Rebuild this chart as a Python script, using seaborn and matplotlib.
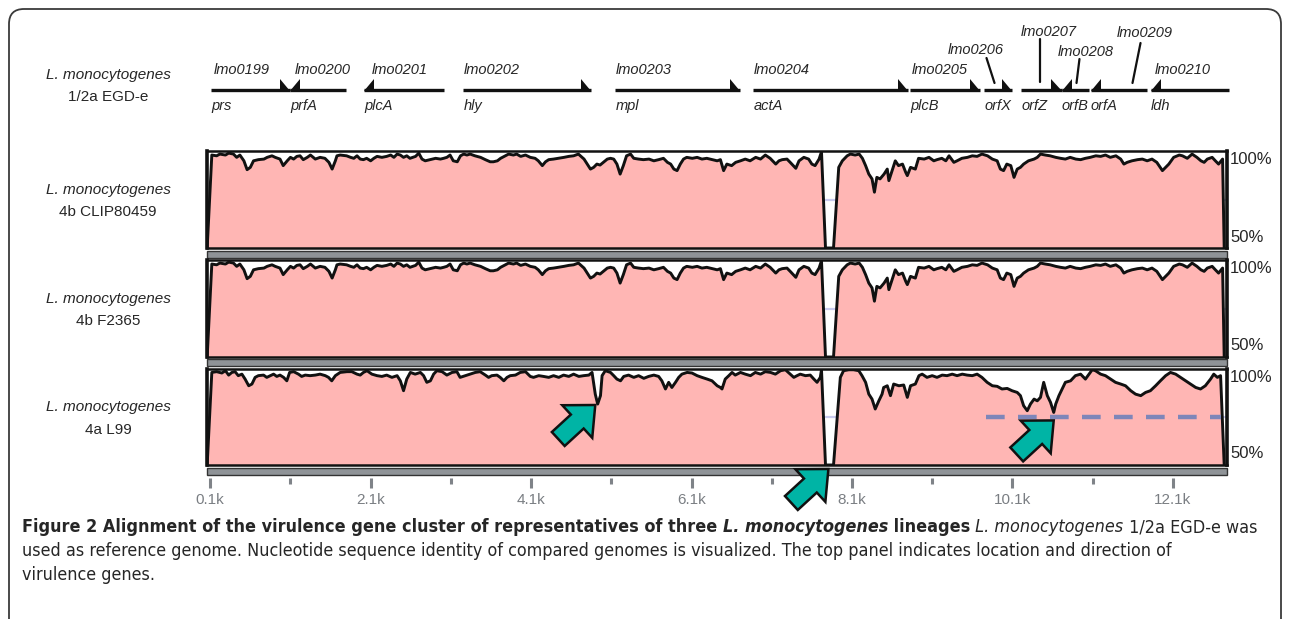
import matplotlib
matplotlib.use('Agg')
import matplotlib.pyplot as plt
import seaborn as sns
from matplotlib import font_manager
from matplotlib.patches import FancyBboxPatch, Rectangle
from matplotlib.transforms import IdentityTransform

W, H = 1290, 619

# ---------------- data ----------------
# virulence gene cluster of the reference genome (positions in bp)
genes = ['prs', 'prfA', 'plcA', 'hly', 'mpl', 'actA', 'plcB', 'orfX', 'orfZ', 'orfB', 'orfA', 'ldh']
locus = ['lmo0199', 'lmo0200', 'lmo0201', 'lmo0202', 'lmo0203', 'lmo0204',
         'lmo0205', 'lmo0206', 'lmo0207', 'lmo0208', 'lmo0209', 'lmo0210']
gene_start = [112, 1098, 2020, 3255, 5150, 6871, 8829, 9752, 10213, 10712, 11074, 11822]
gene_end = [1098, 1796, 3018, 4851, 6709, 8804, 9702, 10089, 10712, 11049, 11772, 12795]
strand = [1, -1, -1, 1, 1, 1, 1, 1, 1, -1, -1, -1]

reference = ('L. monocytogenes', '1/2a EGD-e')
species = ['L. monocytogenes', 'L. monocytogenes', 'L. monocytogenes']
strains = ['4b CLIP80459', '4b F2365', '4a L99']

# (position bp, identity %)
clip80459 = [
    (62, 50), (120, 98.3), (180, 97.9), (220, 98.8), (290, 98.3), (330, 99.3), (390, 98.8),
    (430, 97.1), (470, 98.3), (520, 95.3), (560, 90.7), (600, 91.9), (640, 95.3), (700, 95.9),
    (770, 96.2), (810, 97.1), (870, 97.9), (910, 97.1), (970, 96.2), (1010, 92.8), (1060, 95.3),
    (1100, 97.1), (1140, 96.2), (1180, 97.6), (1220, 97.9), (1260, 95.9), (1310, 97.1),
    (1350, 98.3), (1410, 96.2), (1470, 97.1), (1530, 96.6), (1580, 94.5), (1620, 91.0),
    (1660, 95.3), (1680, 97.9), (1720, 98.3), (1800, 97.9), (1850, 97.1), (1890, 96.6),
    (1930, 97.9), (1970, 96.2), (2010, 95.9), (2050, 96.6), (2100, 95.3), (2140, 96.6),
    (2180, 97.6), (2240, 97.1), (2300, 97.6), (2350, 98.3), (2390, 97.1), (2430, 98.8),
    (2470, 98.3), (2510, 97.1), (2550, 97.9), (2590, 96.6), (2660, 97.6), (2700, 99.3),
    (2740, 96.2), (2780, 95.3), (2840, 95.9), (2910, 96.6), (2970, 96.2), (3010, 96.6),
    (3050, 97.1), (3090, 98.3), (3130, 95.3), (3180, 94.8), (3220, 97.9), (3260, 98.8),
    (3300, 98.3), (3340, 98.8), (3400, 97.9), (3470, 97.1), (3530, 95.9), (3590, 94.8),
    (3630, 94.8), (3680, 95.3), (3720, 96.6), (3780, 97.9), (3820, 98.8), (3880, 98.3),
    (3920, 98.8), (3970, 97.6), (4030, 98.3), (4090, 97.1), (4150, 96.6), (4190, 95.3),
    (4240, 92.8), (4280, 94.8), (4320, 95.9), (4380, 96.2), (4440, 96.6), (4510, 97.1),
    (4570, 97.6), (4630, 97.9), (4690, 98.8), (4760, 96.2), (4800, 93.6), (4840, 91.0),
    (4880, 91.9), (4920, 93.6), (4960, 93.1), (5000, 94.5), (5050, 96.2), (5090, 96.6),
    (5130, 96.2), (5170, 93.6), (5210, 88.4), (5250, 92.8), (5290, 97.9), (5340, 98.8),
    (5380, 96.6), (5440, 96.2), (5500, 95.9), (5570, 96.2), (5630, 95.3), (5690, 95.9),
    (5750, 96.6), (5800, 94.5), (5840, 93.6), (5880, 91.0), (5920, 90.2), (5960, 93.6),
    (6000, 96.2), (6040, 97.1), (6110, 96.6), (6170, 97.1), (6230, 96.2), (6290, 96.6),
    (6360, 95.9), (6420, 95.3), (6460, 95.9), (6500, 90.2), (6540, 93.6), (6600, 92.8),
    (6650, 94.5), (6710, 95.3), (6770, 96.2), (6830, 95.3), (6900, 97.1), (6960, 96.2),
    (7020, 98.3), (7080, 96.6), (7150, 93.6), (7190, 95.3), (7230, 95.9), (7290, 96.2),
    (7330, 94.5), (7400, 91.4), (7440, 95.3), (7500, 97.1), (7560, 96.2), (7600, 93.6),
    (7640, 92.8), (7690, 96.2), (7720, 100), (7770, 50), (7870, 50), (7935, 91.9),
    (7980, 95.3), (8040, 97.9), (8080, 98.8), (8140, 98.3), (8190, 98.8), (8230, 96.6),
    (8270, 92.8), (8310, 88.4), (8350, 85.9), (8380, 79.0), (8410, 86.7), (8450, 85.9),
    (8500, 88.4), (8540, 91.0), (8560, 85.0), (8600, 90.2), (8640, 95.3), (8680, 92.8),
    (8730, 93.6), (8770, 89.3), (8790, 87.6), (8830, 91.9), (8890, 91.0), (8930, 96.6),
    (9000, 96.2), (9060, 97.1), (9120, 95.3), (9160, 95.9), (9220, 96.6), (9270, 95.3),
    (9310, 97.9), (9370, 94.5), (9410, 95.3), (9470, 96.6), (9540, 97.1), (9600, 97.9),
    (9660, 97.6), (9720, 98.8), (9790, 97.9), (9850, 96.2), (9910, 95.3), (9950, 91.0),
    (9990, 90.2), (10030, 93.6), (10080, 92.8), (10120, 86.7), (10160, 91.0), (10200, 91.9),
    (10240, 93.6), (10300, 95.3), (10370, 96.2), (10410, 97.1), (10450, 98.8), (10510, 98.3),
    (10570, 97.9), (10640, 97.1), (10700, 96.6), (10760, 96.2), (10820, 97.1), (10890, 96.2),
    (10950, 95.9), (11010, 96.6), (11070, 97.1), (11140, 97.9), (11200, 97.6), (11260, 98.3),
    (11320, 97.1), (11390, 97.9), (11450, 96.2), (11490, 93.6), (11530, 94.5), (11590, 95.3),
    (11660, 95.9), (11720, 96.2), (11780, 95.3), (11840, 96.2), (11900, 94.5), (11970, 90.2),
    (12010, 91.9), (12050, 93.6), (12110, 97.1), (12180, 98.3), (12220, 97.9), (12280, 96.6),
    (12340, 98.8), (12400, 97.1), (12450, 95.3), (12490, 94.5), (12530, 96.2), (12590, 97.1),
    (12630, 95.3), (12670, 93.6), (12720, 96.2), (12740, 50),
]

# the two 4b strains give the same trace at this resolution
f2365 = list(clip80459)

l99 = [
    (62, 50), (120, 98.6), (180, 99.0), (245, 98.3), (290, 99.5), (330, 97.2), (370, 98.6),
    (410, 99.0), (450, 96.9), (495, 97.7), (535, 95.1), (580, 91.6), (620, 92.5), (660, 96.0),
    (700, 96.9), (765, 97.2), (805, 96.0), (850, 96.9), (890, 97.7), (930, 96.5), (970, 97.2),
    (1015, 96.0), (1055, 94.2), (1090, 98.6), (1140, 99.0), (1200, 97.7), (1240, 96.5),
    (1285, 97.2), (1345, 96.9), (1410, 97.2), (1470, 97.7), (1535, 96.9), (1575, 96.0),
    (1615, 94.2), (1660, 96.9), (1720, 98.6), (1805, 99.0), (1865, 99.0), (1930, 97.7),
    (1970, 97.2), (2010, 98.6), (2055, 99.5), (2115, 97.7), (2180, 96.9), (2240, 96.5),
    (2300, 97.2), (2365, 96.0), (2430, 96.9), (2470, 94.2), (2510, 89.0), (2550, 95.1),
    (2595, 98.6), (2655, 97.7), (2720, 98.6), (2760, 96.9), (2800, 93.4), (2845, 94.2),
    (2885, 97.7), (2925, 99.5), (2990, 99.0), (3050, 97.2), (3115, 98.6), (3175, 99.0),
    (3215, 96.0), (3280, 96.9), (3340, 97.7), (3405, 98.6), (3465, 99.0), (3530, 97.2),
    (3570, 96.0), (3610, 96.9), (3675, 97.2), (3715, 96.0), (3760, 94.2), (3800, 96.0),
    (3840, 96.9), (3905, 97.2), (3965, 98.6), (4030, 99.0), (4090, 96.5), (4130, 96.0),
    (4195, 96.9), (4255, 96.5), (4320, 96.0), (4380, 96.9), (4445, 96.0), (4505, 97.2),
    (4570, 96.5), (4630, 97.7), (4695, 96.5), (4755, 96.9), (4820, 97.2), (4860, 98.6),
    (4900, 87.2), (4930, 82.0), (4965, 86.4), (4985, 96.9), (5025, 99.5), (5090, 98.6),
    (5130, 96.9), (5170, 95.1), (5215, 94.2), (5255, 96.5), (5315, 97.2), (5380, 96.0),
    (5440, 96.9), (5505, 95.5), (5565, 96.5), (5630, 97.2), (5690, 96.5), (5730, 94.2),
    (5775, 89.9), (5815, 93.4), (5855, 90.7), (5900, 93.4), (5940, 96.0), (5980, 97.7),
    (6045, 98.6), (6105, 98.3), (6170, 96.9), (6230, 96.0), (6295, 95.1), (6355, 94.2),
    (6420, 91.6), (6460, 90.7), (6480, 89.9), (6520, 95.1), (6565, 96.9), (6605, 98.6),
    (6645, 97.2), (6710, 98.6), (6770, 97.7), (6835, 96.9), (6895, 98.6), (6960, 97.7),
    (7020, 99.0), (7085, 98.6), (7145, 97.7), (7210, 99.5), (7270, 100), (7330, 97.7),
    (7375, 96.0), (7415, 96.9), (7455, 97.7), (7520, 96.9), (7580, 97.2), (7625, 95.1),
    (7665, 93.4), (7705, 96.0), (7720, 100), (7770, 50), (7870, 50), (7955, 96.0),
    (7995, 99.5), (8060, 100), (8120, 100), (8185, 99.5), (8225, 96.9), (8270, 93.4),
    (8310, 87.2), (8350, 84.6), (8390, 79.4), (8435, 83.7), (8475, 87.2), (8495, 90.7),
    (8540, 91.6), (8580, 86.4), (8620, 92.5), (8685, 91.6), (8745, 92.0), (8790, 85.5),
    (8830, 91.6), (8890, 92.5), (8935, 96.9), (8975, 97.7), (9035, 96.0), (9100, 96.9),
    (9160, 96.0), (9225, 97.2), (9285, 96.9), (9350, 97.7), (9410, 96.9), (9475, 97.7),
    (9535, 97.2), (9600, 96.9), (9660, 97.7), (9720, 96.0), (9785, 93.4), (9850, 91.6),
    (9910, 91.3), (9970, 89.9), (10035, 90.2), (10095, 89.0), (10160, 88.1), (10200, 86.4),
    (10240, 81.1), (10285, 78.5), (10325, 82.0), (10370, 84.6), (10410, 83.7), (10450, 85.5),
    (10490, 93.4), (10535, 86.4), (10575, 82.9), (10615, 77.6), (10640, 82.0), (10680, 86.4),
    (10720, 89.9), (10760, 93.4), (10825, 94.2), (10885, 96.9), (10950, 97.7), (11010, 95.1),
    (11055, 97.7), (11095, 100), (11135, 99.5), (11200, 97.7), (11260, 96.9), (11325, 95.1),
    (11385, 93.4), (11450, 92.5), (11510, 91.6), (11575, 89.0), (11635, 87.2), (11700, 86.4),
    (11760, 88.1), (11820, 89.0), (11885, 91.6), (11945, 94.2), (12010, 96.9), (12070, 98.6),
    (12135, 97.7), (12195, 96.0), (12260, 94.2), (12320, 92.5), (12385, 90.7), (12445, 89.9),
    (12505, 91.6), (12570, 95.1), (12610, 97.7), (12655, 96.0), (12695, 96.9), (12740, 50),
]

profiles = [clip80459, f2365, l99]

# highlighted features in the L99 track
l99_arrows = [(4900, 81.5), (7806, 47.9), (10615, 73.4)]   # (bp, %) pointed at
l99_dash = (9777, 12695, 75)                               # start, end, level

major_ticks = [100, 2100, 4100, 6100, 8100, 10100, 12100]
minor_ticks = [1100, 3100, 5100, 7100, 9100, 11100]
tick_labels = ['0.1k', '2.1k', '4.1k', '6.1k', '8.1k', '10.1k', '12.1k']

# ---------------- layout / style ----------------
X_LIM = (60, 12775)
PINK = '#ffb6b4'
TEAL = '#00b4a5'
PANEL_ROWS = [(151, 248), (260, 357), (369, 465)]   # pixel top/bottom
BAR_ROWS = [(251, 258), (359, 366), (468, 475)]
X0, X1 = 207, 1227

sns.set_style('white')
plt.rcParams['font.family'] = ['Liberation Sans', 'DejaVu Sans']

# pick a narrow face for the caption if one is installed
entries = font_manager.fontManager.ttflist
names = {f.name for f in entries}
if 'Liberation Sans Narrow' in names:
    cap_font = dict(family=['Liberation Sans Narrow', 'DejaVu Sans'])
elif any(f.name == 'DejaVu Sans' and 'condensed' in str(f.stretch) for f in entries):
    cap_font = dict(family=['DejaVu Sans'], fontstretch='condensed')
elif any(f.name == 'Noto Sans' and 'condensed' in str(f.stretch) for f in entries):
    cap_font = dict(family=['Noto Sans'], fontstretch='condensed')
else:
    cap_font = dict(family=['Lato', 'DejaVu Sans'])


def rect(x0, y0, x1, y1):
    return [x0 / W, 1 - y1 / H, (x1 - x0) / W, (y1 - y0) / H]


fig = plt.figure(figsize=(W / 100, H / 100), dpi=100)

# outer rounded frame
frame = FancyBboxPatch((9, -40), W - 18, H - 9 + 40,
                       boxstyle='round,pad=0,rounding_size=15',
                       transform=IdentityTransform(), fill=False,
                       ec='#3a3a3a', lw=1.3)
fig.add_artist(frame)

# ---- gene track ----
gax = fig.add_axes(rect(X0, 20, X1, 125))
gax.set_xlim(X_LIM)
gax.set_ylim(125, 20)
gax.axis('off')
line_y, head_top, head_bot, head_len = 89.5, 79, 91, 125
for g, s, e, d in zip(genes, gene_start, gene_end, strand):
    gax.plot([s, e], [line_y, line_y], color='#111111', lw=2.4,
             solid_capstyle='butt', clip_on=False)
    if d > 0:
        gax.fill([e - head_len, e - head_len, e], [head_top, head_bot, head_bot],
                 color='#111111', lw=0, clip_on=False)
    else:
        gax.fill([s + head_len, s + head_len, s], [head_top, head_bot, head_bot],
                 color='#111111', lw=0, clip_on=False)
    gax.text(s, 106, g, style='italic', fontsize=10.5, va='center', ha='left')

lab_font = dict(style='italic', fontsize=10.5, va='center', ha='left')
upper_x = [150, 1160, 2110, 3255, 5150, 6880, 8850]
for name, x in zip(locus[:7], upper_x):
    gax.text(x, 70, name, **lab_font)
gax.text(11880, 70, locus[11], **lab_font)
# stacked labels with leader lines
gax.text(9290, 50, locus[7], **lab_font)
gax.plot([9777, 9877], [58, 83], color='#111111', lw=1.6)
gax.text(10200, 32, locus[8], **lab_font)
gax.plot([10450, 10450], [39, 82], color='#111111', lw=1.6)
gax.text(10662, 52, locus[9], **lab_font)
gax.plot([10936, 10899], [59, 83], color='#111111', lw=1.6)
gax.text(11398, 33, locus[10], **lab_font)
gax.plot([11697, 11597], [43, 83], color='#111111', lw=1.6)

fig.text(108 / W, 1 - 75 / H, reference[0], style='italic', fontsize=11, ha='center', va='center')
fig.text(108 / W, 1 - 97 / H, reference[1], fontsize=11, ha='center', va='center')

# ---- identity panels ----
panel_axes = []
for prof, sp, st, (top, bot), (bt, bb) in zip(profiles, species, strains, PANEL_ROWS, BAR_ROWS):
    ax = fig.add_axes(rect(X0, top, X1, bot))
    pos = [p for p, _ in prof]
    ident = [v for _, v in prof]
    ax.axhline(75, color='#c9cbef', lw=1.6, zorder=0)
    ax.fill_between(pos, 50, ident, color=PINK, lw=0, zorder=1)
    sns.lineplot(x=pos, y=ident, ax=ax, color='#111111', lw=2.1,
                 estimator=None, sort=False, zorder=3)
    ax.set_xlim(X_LIM)
    ax.set_ylim(50, 100.4)
    ax.set_xticks([])
    ax.set_yticks([])
    for side, sp_ in ax.spines.items():
        sp_.set_visible(True)
        sp_.set_color('#111111')
        sp_.set_linewidth(2.6 if side in ('left', 'right') else 1.8)
    ax.text(1.003, 1 - 8 / (bot - top), '100%', transform=ax.transAxes,
            fontsize=12, va='center', ha='left')
    ax.text(1.003, 11 / (bot - top), '50%', transform=ax.transAxes,
            fontsize=12, va='center', ha='left')
    mid = (top + bot) / 2
    fig.text(108 / W, 1 - (mid - 9.5) / H, sp, style='italic', fontsize=11,
             ha='center', va='center')
    fig.text(108 / W, 1 - (mid + 12.5) / H, st, fontsize=11, ha='center', va='center')
    bar = Rectangle((X0 / W, 1 - bb / H), (X1 - X0) / W, (bb - bt) / H,
                    transform=fig.transFigure, facecolor='#8f9397',
                    edgecolor='#333333', lw=1.0, zorder=-1)
    fig.add_artist(bar)
    panel_axes.append(ax)

# highlights in L99
ax3 = panel_axes[2]
ax3.hlines(l99_dash[2], l99_dash[0], l99_dash[1], color='#7e86b9', lw=3.2,
           linestyles=(0, (4.2, 3.0)), zorder=4)
arrow_style = 'simple,head_length=0.8,head_width=1.45,tail_width=0.62'
for (bx, by) in l99_arrows:
    ax3.annotate('', xy=(bx, by), xytext=(-37, -34), textcoords='offset pixels',
                 annotation_clip=False,
                 arrowprops=dict(arrowstyle=arrow_style, mutation_scale=22,
                                 fc=TEAL, ec='#111111', lw=1.8,
                                 shrinkA=0, shrinkB=0, joinstyle='miter'),
                 zorder=6)

# ---- x axis ticks under the last bar ----
tax = fig.add_axes(rect(X0, 476, X1, 478))
tax.set_xlim(X_LIM)
tax.set_frame_on(False)
tax.set_yticks([])
tax.set_xticks(major_ticks)
tax.set_xticklabels(tick_labels)
tax.set_xticks(minor_ticks, minor=True)
tax.tick_params(axis='x', which='major', bottom=True, direction='out', length=7.5,
                width=2.2, color='#7f8388', labelcolor='#7a7e83', labelsize=11, pad=3)
tax.tick_params(axis='x', which='minor', bottom=True, direction='out', length=4.5,
                width=2.2, color='#7f8388')

# ---- caption ----
line1 = [('Figure 2 Alignment of the virulence gene cluster of representatives of three ', 'bold', 'normal'),
         ('L. monocytogenes', 'bold', 'italic'),
         (' lineages', 'bold', 'normal'),
         (' L. monocytogenes', 'normal', 'italic'),
         (' 1/2a EGD-e was', 'normal', 'normal')]
line2 = [('used as reference genome. Nucleotide sequence identity of compared genomes is '
          'visualized. The top panel indicates location and direction of', 'normal', 'normal')]
line3 = [('virulence genes.', 'normal', 'normal')]

renderer = fig.canvas.get_renderer()


def draw_runs(runs, x, y, size):
    items = []
    for txt, wt, stl in runs:
        t = fig.text(x, H - y, txt, transform=IdentityTransform(), fontsize=size,
                     fontweight=wt, style=stl, color='#262626',
                     va='center', ha='left', **cap_font)
        bb = t.get_window_extent(renderer)
        x = bb.x1
        items.append(t)
    return items, x


probe, end_x = draw_runs(line1, 22, 527, 14)
for t in probe:
    t.remove()
size = 14 * (1262 - 22) / (end_x - 22)
draw_runs(line1, 22, 527, size)
draw_runs(line2, 22, 551, size)
draw_runs(line3, 22, 575, size)

fig.savefig('out.png', dpi=100)
